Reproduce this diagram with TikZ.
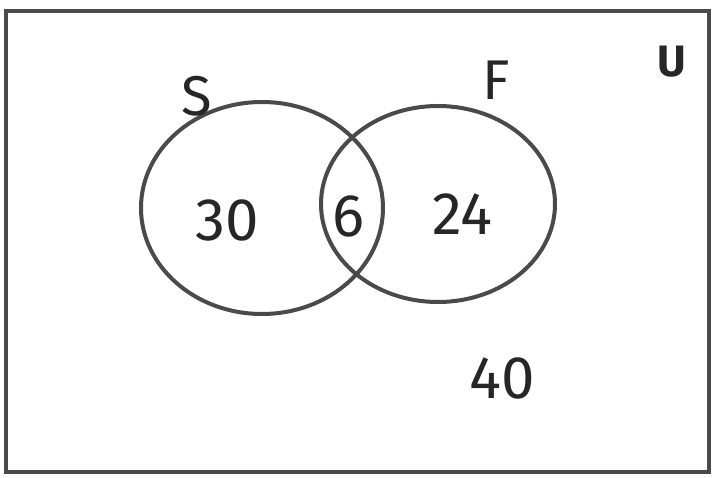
\documentclass[tikz,border=0pt]{standalone}
\usepackage{fontspec}
\setmainfont{Fira Sans}
\usepackage{xcolor}
\usetikzlibrary{positioning}
\definecolor{pencil}{HTML}{4A4A4A}

\begin{document}
\begin{tikzpicture}[
        x=1pt, y=-1pt,
        setline/.style={draw=pencil, line width=4pt},
        setname/.style={font=\fontsize{56}{60}\selectfont, text=black!85},
        count/.style={font=\fontsize{60}{66}\selectfont, text=black!85}
    ]
    \useasboundingbox (0,0) rectangle (715,478);

    \draw[setline, line width=4.5pt] (6,11) rectangle (709,472);

    \draw[setline] (262,208) ellipse [x radius=121, y radius=106];
    \draw[setline] (438,204) ellipse [x radius=117, y radius=98];

    \node[setname] (labS) at (197,96) {S};
    \node[setname] (labF) at (496,80) {F};
    \node[font=\bfseries\fontsize{44}{48}\selectfont, text=black!85] (labU) at (672,62) {U};

    \node[count] (only-s) at (227,220) {30};
    \node[count] (both) at (348,216) {6};
    \node[count] (only-f) at (462,214) {24};
    \node[count] (neither) at (502,378) {40};

\end{tikzpicture}
\end{document}
